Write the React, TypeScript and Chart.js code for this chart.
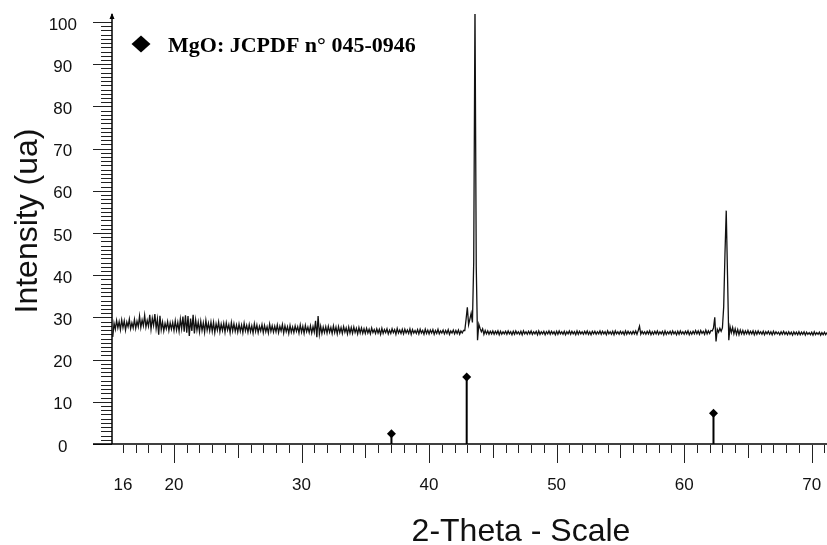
import React, { useEffect, useRef } from 'react';
import { Chart, registerables } from 'chart.js';

Chart.register(...registerables);

// ---- Data (2-Theta in degrees, intensity in a.u.) ----
const STEP = 0.1;

const seg1Start = 15.2;
const seg1 = [
  25.4, 28.6, 27.2, 29.3, 27.5, 29.0, 27.1, 29.4,
  27.6, 29.2, 27.0, 28.9, 27.8, 29.6, 27.3, 28.7, 27.5, 29.5,
  27.4, 29.1, 27.8, 30.3, 27.6, 29.4, 28.0, 30.5, 27.7, 29.3,
  27.9, 30.6, 27.2, 29.8, 28.1, 30.8, 27.4, 29.6, 25.9, 30.4,
  27.1, 28.9, 26.8, 28.6, 27.3, 29.0, 26.9, 28.7, 27.2, 28.8,
  26.9, 29.2, 27.0, 28.8, 26.7, 29.6, 27.3, 30.2, 26.6, 30.5,
  26.4, 30.3, 25.6, 29.7, 26.8, 30.6, 26.2, 29.4, 27.0, 28.9,
  26.6, 29.1, 26.9, 28.7, 26.5, 29.3, 27.0, 28.6, 26.8, 28.9,
  26.7, 28.8, 26.4, 28.5, 27.0, 28.9, 26.6, 28.4, 26.9, 28.6,
  26.5, 28.7, 27.0, 28.3, 26.4, 28.8, 26.8, 28.5, 26.7, 28.2,
];

const seg2Start = 25.0;
const seg2 = [
  26.5, 28.4, 26.7, 28.2, 26.4, 28.6, 26.8, 28.1, 26.5, 28.3,
  26.6, 28.0, 26.3, 28.5, 26.7, 28.2, 26.4, 27.9, 26.8, 28.3,
  26.4, 28.1, 26.6, 27.8, 26.3, 28.4, 26.7, 28.0, 26.5, 27.9,
  26.6, 28.2, 26.4, 27.9, 26.8, 28.3, 26.3, 28.0, 26.6, 27.8,
  26.2, 28.1, 26.5, 27.7, 26.4, 28.0, 26.7, 27.8, 26.3, 28.2,
  26.5, 27.9, 26.2, 28.1, 26.6, 27.7, 26.4, 28.0, 26.3, 27.8,
  26.5, 29.2, 25.3, 30.3, 26.0, 27.9, 26.2, 27.7, 26.4, 27.8,
  26.3, 27.9, 26.5, 27.6, 26.2, 28.0, 26.4, 27.7, 26.1, 27.8,
  26.4, 27.6, 26.2, 27.8, 26.5, 27.5, 26.1, 27.7, 26.3, 27.6,
  26.2, 27.7, 26.4, 27.4, 26.1, 27.6, 26.3, 27.5, 26.2, 27.3,
];

const seg3Start = 35.0;
const seg3 = [
  26.2, 27.4, 26.3, 27.2, 26.1, 27.5, 26.4, 27.1, 26.2, 27.3,
  26.3, 27.2, 26.0, 27.4, 26.2, 27.1, 26.4, 27.3, 26.1, 27.0,
  26.2, 27.3, 26.4, 27.1, 26.0, 27.4, 26.3, 27.0, 26.2, 27.2,
  26.1, 27.2, 26.3, 27.0, 26.2, 27.3, 26.0, 27.1, 26.3, 26.9,
  26.2, 27.1, 26.1, 27.2, 26.3, 26.9, 26.0, 27.2, 26.2, 27.0,
  26.1, 27.0, 26.3, 27.1, 26.0, 26.9, 26.2, 27.2, 26.1, 26.8,
  26.3, 27.0, 26.1, 26.9, 26.2, 27.1, 26.0, 26.8, 26.3, 27.0,
  26.1, 26.9, 26.2, 27.0, 26.0, 26.8, 26.3, 26.9,
];

const peak1Start = 42.8;
const peak1 = [26.9, 29.5, 32.4, 28.3, 29.6, 31.0, 28.8, 43.0, 104.0, 42.0, 24.6, 28.4, 27.4, 26.6];

const seg4Start = 44.2;
const seg4 = [
  27.3, 26.0, 26.9, 26.1, 26.8, 26.0, 26.7, 26.1,
  26.8, 26.0, 26.7, 26.1, 26.8, 25.9, 26.7, 26.0, 26.6, 26.1,
  26.7, 26.0, 26.8, 26.1, 26.6, 25.9, 26.7, 26.0, 26.8, 26.1,
  26.6, 26.0, 26.7, 25.9, 26.8, 26.1, 26.6, 26.0, 26.7, 26.1,
  26.8, 26.0, 26.6, 26.1, 26.7, 25.9, 26.8, 26.0, 26.6, 26.1,
  26.7, 25.9, 26.6, 26.1, 26.8, 26.0, 26.7, 26.1, 26.6, 25.9,
  26.7, 26.0, 26.8, 26.1, 26.6, 26.0, 26.7, 25.9, 26.6, 26.1,
  26.8, 26.0, 26.7, 26.1, 26.6, 25.9, 26.8, 26.0, 26.7, 26.1,
  26.6, 26.0, 26.7, 26.1, 26.8, 26.0, 26.6, 25.9, 26.7, 26.1,
  26.7, 26.0, 26.6, 26.1, 26.8, 26.0, 26.7, 26.1, 26.6, 25.9,
  26.8, 26.1, 26.6, 26.0, 26.7, 25.9, 26.8, 26.1, 26.6, 26.0,
  26.7, 26.1, 26.6, 25.9, 26.8, 26.0, 26.7, 26.1, 26.6, 26.0,
  26.7, 26.1, 26.8, 26.0, 26.9, 27.9, 26.0, 26.7, 26.1, 26.6,
  26.0, 26.7, 26.1, 26.8, 25.9, 26.6, 26.0, 26.7, 26.1, 26.8,
  26.0, 26.6, 26.1, 26.7, 25.9, 26.8, 26.0, 26.6, 26.1, 26.7,
  26.0, 26.8, 26.1, 26.6, 25.9, 26.7, 26.0, 26.8, 26.1, 26.6,
  26.0, 26.7, 26.1, 26.8, 25.9, 26.6, 26.0, 26.7, 26.1, 26.9,
  26.1, 26.8, 26.0, 26.9, 26.2, 26.7, 26.0, 27.0, 26.1, 26.8,
  26.2, 26.9,
];

const peak2Start = 62.2;
const peak2 = [26.8, 27.5, 30.0, 24.3, 27.2, 26.5, 27.4, 26.7, 27.5, 32.5, 45.0, 55.3, 40.0, 24.6, 27.8, 26.4, 27.6];

const seg5Start = 63.9;
const seg5 = [
  26.1,
  27.3, 26.0, 27.1, 25.9, 27.0, 26.1, 26.9, 26.0, 26.8, 26.1,
  26.9, 26.0, 26.7, 26.1, 26.8, 25.9, 26.7, 26.0, 26.8, 26.1,
  26.6, 26.0, 26.7, 25.9, 26.6, 26.1, 26.7, 26.0, 26.6, 25.9,
  26.7, 26.0, 26.6, 26.1, 26.5, 25.9, 26.6, 26.0, 26.7, 26.0,
  26.5, 25.9, 26.6, 26.0, 26.5, 25.8, 26.6, 26.0, 26.5, 25.9,
  26.6, 25.9, 26.5, 26.0, 26.6, 25.8, 26.5, 26.0, 26.4, 25.9,
  26.5, 25.8, 26.6, 25.9, 26.4, 26.0, 26.5, 25.8, 26.4, 25.9,
  26.5, 25.9, 26.4,
];

// Reference pattern (MgO JCPDF 045-0946) sticks
const stickPositions = [37.05, 42.95, 62.3];
const stickHeights = [2.4, 15.9, 7.3];

// Axes
const xTickValues = [16, 20, 30, 40, 50, 60, 70];
const yTickStep = 10;
const X_MIN = 15.14;
const X_MAX = 71.2;
const Y_MIN = 0;
const Y_MAX = 101.9;

const legendText = 'MgO: JCPDF n\u00b0 045-0946';
const xTitle = '2-Theta - Scale';
const yTitle = 'Intensity (ua)';

const SANS = '"Liberation Sans", Arial, Helvetica, sans-serif';
const SERIF = '"Liberation Serif", "Times New Roman", Times, serif';

function buildPattern() {
  const segs: [number, number[]][] = [
    [seg1Start, seg1],
    [seg2Start, seg2],
    [seg3Start, seg3],
    [peak1Start, peak1],
    [seg4Start, seg4],
    [peak2Start, peak2],
    [seg5Start, seg5],
  ];
  const pts: { x: number; y: number }[] = [];
  for (const [start, vals] of segs) {
    vals.forEach((v, i) => pts.push({ x: +(start + i * STEP).toFixed(2), y: v }));
  }
  return pts;
}

function buildSticks() {
  const pts: { x: number; y: number | null }[] = [];
  stickPositions.forEach((p, i) => {
    pts.push({ x: p, y: 0 });
    pts.push({ x: p, y: stickHeights[i] });
    pts.push({ x: p, y: null });
  });
  return pts;
}

const decorPlugin = {
  id: 'xrdDecor',
  afterDraw(chart: any) {
    const { ctx, chartArea } = chart;
    const xs = chart.scales.x;
    const ys = chart.scales.y;
    const left = chartArea.left;
    const bottom = chartArea.bottom;
    ctx.save();

    // y ticks (major every 10, minor every 1)
    ctx.strokeStyle = '#222';
    ctx.lineWidth = 1;
    for (let v = Y_MIN; v <= 100; v += 1) {
      const py = Math.round(ys.getPixelForValue(v)) + 0.5;
      const len = v % yTickStep === 0 ? 19 : 11;
      ctx.beginPath();
      ctx.moveTo(left - len, py);
      ctx.lineTo(left, py);
      ctx.stroke();
    }
    // x ticks (every degree; longer at 5 and 10)
    for (let v = Math.ceil(X_MIN); v <= Math.floor(X_MAX); v += 1) {
      const px = Math.round(xs.getPixelForValue(v)) + 0.5;
      const len = v % 10 === 0 ? 19 : v % 5 === 0 ? 14 : 9;
      ctx.beginPath();
      ctx.moveTo(px, bottom + 1);
      ctx.lineTo(px, bottom + len);
      ctx.stroke();
    }

    // axis lines
    ctx.strokeStyle = '#000';
    ctx.lineWidth = 1.5;
    ctx.beginPath();
    ctx.moveTo(left, bottom);
    ctx.lineTo(left, chartArea.top);
    ctx.stroke();
    ctx.beginPath();
    ctx.moveTo(left - 19, bottom);
    ctx.lineTo(chartArea.right, bottom);
    ctx.stroke();
    // small arrow head on y axis
    ctx.fillStyle = '#000';
    ctx.beginPath();
    ctx.moveTo(left, chartArea.top - 1);
    ctx.lineTo(left - 2.5, chartArea.top + 5);
    ctx.lineTo(left + 2.5, chartArea.top + 5);
    ctx.closePath();
    ctx.fill();

    // legend
    const lx = 141;
    const ly = 44;
    ctx.beginPath();
    ctx.moveTo(lx, ly - 8.5);
    ctx.lineTo(lx + 9.5, ly);
    ctx.lineTo(lx, ly + 8.5);
    ctx.lineTo(lx - 9.5, ly);
    ctx.closePath();
    ctx.fill();
    ctx.font = `bold 22px ${SERIF}`;
    ctx.textAlign = 'left';
    ctx.textBaseline = 'alphabetic';
    ctx.fillText(legendText, 168, 52);

    // axis titles
    ctx.fillStyle = '#111';
    ctx.font = `32px ${SANS}`;
    ctx.textAlign = 'center';
    ctx.fillText(xTitle, 521, 541);
    ctx.save();
    ctx.translate(37, 221);
    ctx.rotate(-Math.PI / 2);
    ctx.fillText(yTitle, 0, 0);
    ctx.restore();

    ctx.restore();
  },
};

export default function App() {
  const ref = useRef<HTMLCanvasElement | null>(null);

  useEffect(() => {
    document.body.style.margin = '0';
    const canvas = ref.current;
    if (!canvas) return;
    const chart = new Chart(canvas, {
      type: 'line',
      data: {
        datasets: [
          {
            label: 'pattern',
            data: buildPattern(),
            borderColor: '#111',
            borderWidth: 1.3,
            pointRadius: 0,
            tension: 0,
            fill: false,
          },
          {
            label: 'MgO',
            data: buildSticks(),
            borderColor: '#000',
            backgroundColor: '#000',
            borderWidth: 2,
            spanGaps: false,
            pointStyle: 'rectRot',
            pointRadius: (c: any) => (c.raw && c.raw.y > 0 ? 4.5 : 0),
            pointBorderWidth: 0,
            pointBackgroundColor: '#000',
            tension: 0,
            fill: false,
          },
        ],
      },
      options: {
        animation: false,
        responsive: false,
        maintainAspectRatio: false,
        events: [],
        layout: { padding: { top: 14, left: 0, right: 0, bottom: 0 } },
        plugins: {
          legend: { display: false },
          tooltip: { enabled: false },
          title: { display: false },
        },
        scales: {
          x: {
            type: 'linear',
            position: 'bottom',
            min: X_MIN,
            max: X_MAX,
            afterBuildTicks: (s: any) => {
              s.ticks = xTickValues.map((v) => ({ value: v }));
            },
            afterFit: (s: any) => {
              s.height = 101;
              s.paddingLeft = 0;
              s.paddingRight = 0;
            },
            grid: { display: false, drawTicks: false },
            border: { display: false },
            ticks: {
              padding: 31,
              color: '#111',
              maxRotation: 0,
              autoSkip: false,
              font: { family: SANS, size: 17 },
            },
          },
          y: {
            type: 'linear',
            min: Y_MIN,
            max: Y_MAX,
            afterFit: (s: any) => {
              s.width = 112;
              s.paddingTop = 0;
              s.paddingBottom = 0;
            },
            grid: { display: false, drawTicks: false },
            border: { display: false },
            ticks: {
              stepSize: yTickStep,
              includeBounds: false,
              padding: 35,
              crossAlign: 'center',
              labelOffset: 3,
              color: '#111',
              font: { family: SANS, size: 17 },
            },
          },
        },
      },
      plugins: [decorPlugin],
    } as any);
    return () => chart.destroy();
  }, []);

  return (
    <div style={{ width: 827, height: 545 }}>
      <canvas ref={ref} width={827} height={545} style={{ display: 'block' }} />
    </div>
  );
}
